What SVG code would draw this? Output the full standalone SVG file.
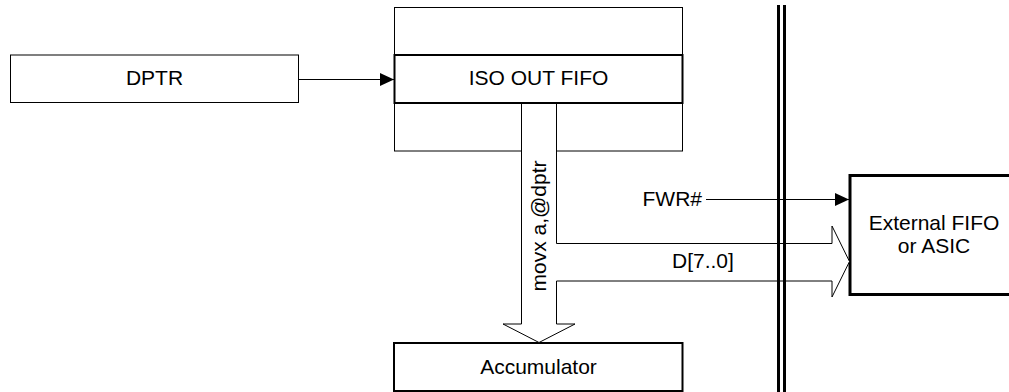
<svg xmlns="http://www.w3.org/2000/svg" width="1009" height="392" viewBox="0 0 1009 392">
<style>
text{font-family:"Liberation Sans",Arial,sans-serif;font-size:21px;fill:#000}
.thin{fill:#fff;stroke:#000;stroke-width:1}
.thick{fill:#fff;stroke:#000;stroke-width:2}
.wire{fill:none;stroke:#000;stroke-width:1}
</style>
<defs>
<marker id="ah" markerWidth="14" markerHeight="14" refX="14" refY="7" orient="auto" markerUnits="userSpaceOnUse">
<path d="M0,0.5 L14,7 L0,13.5 Z" fill="#000"/>
</marker>
</defs>
<rect width="1009" height="392" fill="#fff"/>
<g id="dptr">
<rect class="thin" x="10.5" y="55" width="288" height="47.5"/>
<text x="154.5" y="85" text-anchor="middle">DPTR</text>
</g>
<g id="iso-fifo">
<rect class="thin" x="394.5" y="7.5" width="288" height="143.5"/>
<rect class="thick" x="394.5" y="55" width="288" height="48"/>
<text x="538.5" y="85" text-anchor="middle">ISO OUT FIFO</text>
</g>
<g id="accumulator">
<rect class="thick" x="394" y="343" width="288.5" height="48"/>
<text x="538.5" y="373.5" text-anchor="middle">Accumulator</text>
</g>
<g id="external">
<rect x="850" y="175.5" width="170" height="119" fill="#fff" stroke="#000" stroke-width="3"/>
<text x="934" y="229.5" text-anchor="middle">External FIFO</text>
<text x="934" y="253" text-anchor="middle">or ASIC</text>
</g>
<g id="connectors">
<path class="wire" d="M298.5,79.5 H394" marker-end="url(#ah)"/>
<path d="M521.5,104 V324 H503 L539,342.5 L575,324 H556.5 V281 H832 V297 L849.5,261.5 L832,226 V243.5 H556.5 V104" fill="#fff" stroke="#000" stroke-width="1"/>
<path class="wire" d="M706,199.5 H849" marker-end="url(#ah)"/>
<text transform="translate(545.5,226) rotate(-90)" x="0" y="0" text-anchor="middle">movx a,@dptr</text>
<text x="702" y="206" text-anchor="end">FWR#</text>
<text x="672" y="268" text-anchor="start">D[7..0]</text>
</g>
<g id="boundary">
<line x1="778.5" y1="5" x2="778.5" y2="392" stroke="#000" stroke-width="3"/>
<line x1="784.5" y1="5" x2="784.5" y2="392" stroke="#000" stroke-width="3"/>
</g>
</svg>
